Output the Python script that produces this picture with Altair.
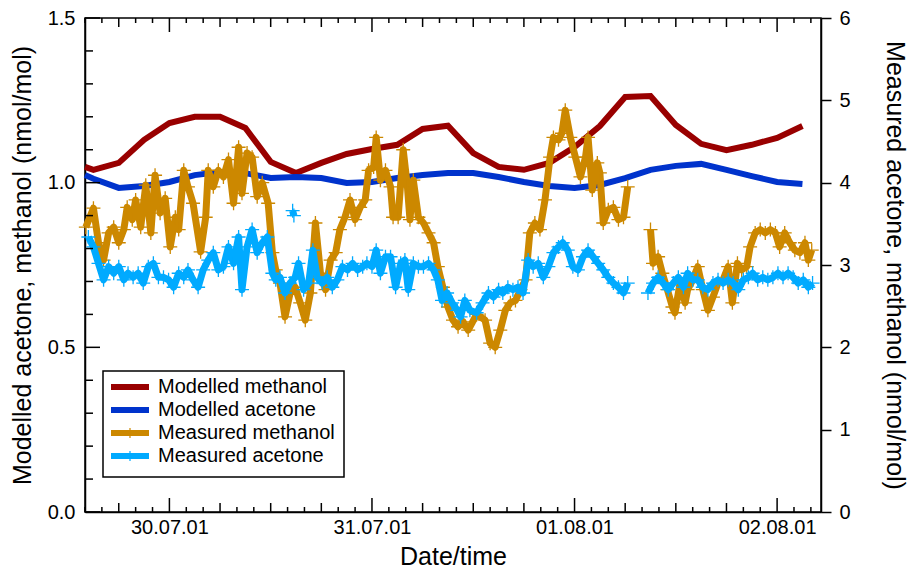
import altair as alt
import pandas as pd

# ---------------- data (hours relative to 30.07.01 00:00) ----------------
model_hours = [-10, -9, -6, -3, 0, 3, 6, 9, 12, 15, 18, 21, 24, 27, 30, 33, 36, 39,
               42, 45, 48, 51, 54, 57, 60, 63, 66, 69, 72, 75]
model_methanol = [1.048, 1.039, 1.060, 1.130, 1.181, 1.200, 1.200, 1.166, 1.063, 1.029,
                  1.060, 1.087, 1.102, 1.115, 1.163, 1.173, 1.090, 1.048, 1.039, 1.060,
                  1.108, 1.172, 1.260, 1.263, 1.175, 1.118, 1.099, 1.115, 1.136, 1.172]
model_acetone = [1.023, 1.012, 0.984, 0.990, 1.002, 1.023, 1.032, 1.029, 1.014, 1.017,
                 1.014, 0.999, 1.002, 1.014, 1.023, 1.029, 1.029, 1.017, 1.002, 0.990,
                 0.984, 0.993, 1.014, 1.039, 1.051, 1.057, 1.039, 1.020, 1.002, 0.996]

meth_h1 = [-9.9, -9.0, -8.4, -7.8, -7.2, -6.6, -6.0, -5.4, -5.0, -4.4, -4.0, -3.4, -2.8, -2.2,
           -1.7, -1.1, -0.5, 0.1, 0.7, 1.1, 1.7, 2.2, 2.8, 3.7, 4.3, 4.6, 5.2, 5.8, 6.4, 7.0,
           7.6, 8.2, 8.6, 9.2, 9.8, 10.4, 11.0, 11.7, 12.2, 12.6, 13.1, 13.7, 14.3, 14.9, 15.5,
           16.1, 16.7, 17.3, 17.9, 18.5, 19.1, 19.7, 20.2, 20.8, 21.4, 22.0, 22.6, 23.2, 23.6,
           24.2, 24.5, 25.0, 25.6, 26.2, 26.5, 27.1, 27.7, 28.2, 28.5, 28.9, 29.5, 30.1, 30.7,
           31.3, 31.8, 32.4, 33.0, 33.6, 34.2, 34.8, 35.4, 36.4, 37.4, 38.0, 38.6, 39.2, 39.8,
           40.4, 41.0, 41.6, 42.2, 42.7, 43.3, 43.9, 44.5, 45.1, 45.5, 46.1, 46.5, 46.9, 47.5,
           48.1, 48.7, 49.3, 49.6, 50.1, 50.7, 51.0, 51.4, 52.0, 52.6, 53.2, 53.8, 54.3]
meth_v1 = [3.46, 3.69, 3.27, 3.06, 3.39, 3.46, 3.27, 3.43, 3.70, 3.55, 3.79, 3.46, 3.97, 3.39,
           4.09, 3.63, 3.81, 3.22, 3.58, 3.43, 4.15, 3.95, 3.75, 3.16, 3.58, 4.15, 3.95, 4.15,
           4.07, 4.28, 3.75, 4.43, 3.87, 4.36, 4.31, 3.83, 4.00, 3.75, 3.15, 2.94, 2.78, 2.37,
           2.66, 2.73, 2.54, 2.33, 2.66, 3.51, 2.90, 2.70, 3.06, 3.15, 3.43, 3.58, 3.79, 3.55,
           3.70, 3.79, 4.15, 4.19, 4.55, 4.03, 4.15, 3.95, 3.58, 3.58, 4.40, 3.95, 3.55, 4.03,
           3.58, 3.51, 3.39, 3.27, 2.98, 2.73, 2.49, 2.33, 2.25, 2.31, 2.21, 2.40, 2.33, 2.05,
           2.00, 2.21, 2.45, 2.54, 2.57, 2.70, 2.82, 3.39, 3.51, 3.43, 3.79, 4.31, 4.55, 4.52,
           4.60, 4.88, 4.55, 4.31, 4.07, 4.31, 4.55, 3.91, 4.24, 4.12, 3.51, 3.67, 3.70, 3.55,
           3.58, 3.95]
meth_h2 = [57.0, 57.3, 57.9, 58.4, 59.0, 59.6, 59.9, 60.5, 61.1, 61.4, 62.0, 62.6, 63.2, 63.8,
           64.4, 65.0, 65.6, 66.2, 66.7, 67.3, 67.8, 68.4, 68.8, 69.4, 70.0, 70.6, 71.2, 71.8,
           72.3, 72.9, 73.5, 74.1, 74.7, 75.3, 75.7, 76.1]
meth_v2 = [3.43, 3.02, 3.10, 2.90, 2.70, 2.49, 2.42, 2.78, 2.54, 2.70, 2.82, 2.98, 2.70, 2.45,
           2.61, 2.78, 2.82, 2.98, 2.54, 3.02, 2.94, 2.98, 3.22, 3.39, 3.43, 3.39, 3.43, 3.39,
           3.22, 3.39, 3.27, 3.18, 3.15, 3.27, 3.06, 3.18]

acet_h1 = [-9.6, -9.0, -8.4, -7.8, -7.2, -6.6, -6.0, -5.4, -4.9, -4.3, -3.7, -3.1, -2.5, -1.9,
           -1.3, -0.7, -0.1, 0.5, 1.1, 1.7, 2.2, 2.8, 3.4, 4.0, 4.6, 5.2, 5.8, 6.4, 7.0, 7.6,
           8.2, 8.6, 9.2, 9.8, 10.4, 11.0, 11.6, 12.2, 12.6, 13.1, 13.7, 14.3, 14.9, 15.3, 15.9,
           16.5, 17.0, 17.5, 18.1, 18.7, 19.3, 19.9, 20.5, 21.1, 21.7, 22.3, 22.9, 23.4, 24.0,
           24.5, 25.0, 25.6, 26.2, 26.8, 27.4, 27.9, 28.3, 28.9, 29.5, 30.1, 30.7, 31.3, 31.8,
           32.3, 32.9, 33.5, 34.1, 34.5, 35.0, 35.6, 36.4, 37.1, 37.8, 38.4, 39.0, 39.5, 40.1,
           40.7, 41.3, 41.9, 42.5, 43.1, 43.7, 44.3, 44.9, 45.5, 46.1, 46.6, 47.2, 47.8, 48.4,
           49.0, 49.6, 50.2, 50.8, 51.4, 52.0, 52.6, 53.2, 53.8, 54.3]
acet_v1 = [3.34, 3.22, 3.02, 2.82, 2.98, 2.90, 2.98, 2.82, 2.90, 2.85, 2.90, 2.78, 2.98, 3.02,
           2.85, 2.85, 2.82, 2.73, 2.90, 2.85, 2.94, 2.82, 2.73, 2.94, 3.06, 3.15, 2.94, 2.98,
           3.22, 3.02, 3.34, 2.70, 3.22, 3.43, 3.15, 3.27, 3.34, 2.90, 2.82, 2.85, 2.66, 2.78,
           2.85, 3.02, 2.70, 2.78, 3.18, 2.85, 2.78, 2.85, 2.73, 2.82, 2.98, 2.94, 3.02, 2.94,
           2.98, 3.02, 2.98, 3.18, 2.90, 3.10, 3.10, 2.73, 3.02, 3.06, 2.70, 3.02, 2.98, 2.98,
           3.02, 2.94, 2.82, 2.57, 2.66, 2.54, 2.45, 2.37, 2.57, 2.45, 2.42, 2.54, 2.66, 2.61,
           2.70, 2.66, 2.73, 2.70, 2.73, 2.66, 3.06, 2.98, 3.02, 2.85, 2.98, 3.15, 3.22, 3.27,
           3.18, 2.98, 2.94, 3.10, 3.18, 3.10, 3.02, 2.94, 2.85, 2.78, 2.73, 2.66, 2.78]
acet_h_iso = [14.6, 14.75]
acet_v_iso = [3.66, 3.60]
acet_h2 = [56.7, 57.3, 57.9, 58.5, 59.1, 59.7, 60.3, 60.9, 61.4, 62.0, 62.6, 63.2, 63.8, 64.4,
           65.0, 65.6, 66.2, 66.8, 67.4, 68.0, 68.6, 69.1, 69.7, 70.3, 70.9, 71.5, 72.1, 72.7,
           73.3, 73.9, 74.5, 75.1, 75.7, 76.2]
acet_v2 = [2.66, 2.78, 2.85, 2.78, 2.70, 2.78, 2.85, 2.73, 2.90, 2.82, 2.82, 2.73, 2.70, 2.78,
           2.82, 2.78, 2.82, 2.78, 2.70, 2.82, 2.85, 2.90, 2.82, 2.85, 2.82, 2.85, 2.90, 2.85,
           2.90, 2.85, 2.78, 2.82, 2.73, 2.78]

legend_names = ["Modelled methanol", "Modelled acetone", "Measured methanol", "Measured acetone"]
legend_colors = ["#990000", "#0033CC", "#CC8800", "#00AAFF"]
date_labels = [(2001, 7, 30), (2001, 7, 31), (2001, 8, 1), (2001, 8, 2)]

# ---------------- helpers ----------------
BASE = pd.Timestamp("2001-07-30 00:00:00")
W, H = 736, 494
FONT = "Liberation Sans"


def to_t(hours):
    return [(BASE + pd.Timedelta(hours=h)).strftime("%Y-%m-%dT%H:%M:%S") for h in hours]


def seg_df(segments):
    rows = []
    for sid, (hs, vs) in enumerate(segments):
        for t, v in zip(to_t(hs), vs):
            rows.append({"t": t, "v": v, "seg": sid})
    return pd.DataFrame(rows)


mod_df = pd.DataFrame({"t": to_t(model_hours), "meth": model_methanol, "acet": model_acetone})
mm_df = seg_df([(meth_h1, meth_v1), (meth_h2, meth_v2)])
ma_df = seg_df([(acet_h1, acet_v1), (acet_h_iso, acet_v_iso), (acet_h2, acet_v2)])

ticks = pd.date_range("2001-07-29 14:00", "2001-08-02 04:00", freq="2h")
tick_df = pd.DataFrame({"t": ticks.strftime("%Y-%m-%dT%H:%M:%S"),
                        "kind": ["long" if t.hour == 0 else ("mid" if t.hour % 6 == 0 else "short")
                                 for t in ticks]})
ytick_vals = [round(i * 0.1, 1) for i in range(16)]
ytick_df = pd.DataFrame({"v": ytick_vals,
                         "major": [abs(v * 2 - round(v * 2)) < 1e-9 for v in ytick_vals]})

X_SCALE = alt.Scale(domain=[alt.DateTime(year=2001, month=7, date=29, hours=14),
                            alt.DateTime(year=2001, month=8, date=2, hours=5, minutes=12)])
X_AXIS = alt.Axis(values=[alt.DateTime(year=y, month=m, date=d) for y, m, d in date_labels],
                  format="%d.%m.%y", title="Date/time", ticks=False, tickSize=0,
                  labelPadding=5, labelFontSize=20, titleFontSize=25, titlePadding=7,
                  domainColor="black", domainWidth=1.5, grid=False, labelFlush=False)


def xenc():
    return alt.X("t:T", scale=X_SCALE, axis=X_AXIS)


LEFT_SCALE = alt.Scale(domain=[0, 1.5], nice=False, zero=False)
RIGHT_SCALE = alt.Scale(domain=[0, 6], nice=False, zero=False)
LEFT_AXIS = alt.Axis(orient="left", values=[0, 0.5, 1.0, 1.5], format=".1f",
                     title="Modelled acetone, methanol (nmol/mol)", ticks=False, tickSize=0,
                     labelPadding=10, labelFontSize=20, titleFontSize=25, titlePadding=12,
                     domainColor="black", domainWidth=1.5, grid=False)
RIGHT_AXIS = alt.Axis(orient="right", values=[0, 1, 2, 3, 4, 5, 6], format="d",
                      title="Measured acetone, methanol (nmol/mol)", tickSize=10, tickWidth=1.5,
                      tickColor="black", labelPadding=8, labelFontSize=20, titleFontSize=25,
                      titlePadding=31, domainColor="black", domainWidth=1.5, grid=False)

CROSS = "M-1,0L1,0M0,-1L0,1"

layers = []
# modelled
layers.append(alt.Chart(mod_df).mark_line(color=legend_colors[0], strokeWidth=6).encode(
    x=xenc(), y=alt.Y("meth:Q", scale=LEFT_SCALE, axis=LEFT_AXIS)))
layers.append(alt.Chart(mod_df).mark_line(color=legend_colors[1], strokeWidth=6).encode(
    x=xenc(), y=alt.Y("acet:Q", scale=LEFT_SCALE, axis=None)))
# measured methanol
layers.append(alt.Chart(mm_df).mark_line(color=legend_colors[2], strokeWidth=7,
                                         strokeJoin="round").encode(
    x=xenc(), y=alt.Y("v:Q", scale=RIGHT_SCALE, axis=RIGHT_AXIS), detail="seg:N"))
layers.append(alt.Chart(mm_df).mark_point(shape=CROSS, size=196, filled=False, strokeWidth=1.3,
                                          color=legend_colors[2], opacity=1).encode(
    x=xenc(), y=alt.Y("v:Q", scale=RIGHT_SCALE, axis=None)))
# measured acetone
layers.append(alt.Chart(ma_df).mark_line(color=legend_colors[3], strokeWidth=7,
                                         strokeJoin="round").encode(
    x=xenc(), y=alt.Y("v:Q", scale=RIGHT_SCALE, axis=None), detail="seg:N"))
layers.append(alt.Chart(ma_df).mark_point(shape=CROSS, size=196, filled=False, strokeWidth=1.3,
                                          color=legend_colors[3], opacity=1).encode(
    x=xenc(), y=alt.Y("v:Q", scale=RIGHT_SCALE, axis=None)))

# inward ticks on bottom and top
for kind, ln in [("long", 14), ("mid", 9), ("short", 5)]:
    d = tick_df[tick_df["kind"] == kind]
    layers.append(alt.Chart(d).mark_rule(color="black", strokeWidth=1.5).encode(
        x=xenc(), y=alt.value(H), y2=alt.value(H - ln)))
    layers.append(alt.Chart(d).mark_rule(color="black", strokeWidth=1.5).encode(
        x=xenc(), y=alt.value(0), y2=alt.value(ln)))
# inward ticks on left
for major, ln in [(True, 15), (False, 8)]:
    d = ytick_df[ytick_df["major"] == major]
    layers.append(alt.Chart(d).mark_rule(color="black", strokeWidth=1.5).encode(
        y=alt.Y("v:Q", scale=LEFT_SCALE, axis=None), x=alt.value(0), x2=alt.value(ln)))

# legend
leg_df = pd.DataFrame({"name": legend_names, "color": legend_colors, "row": [0, 1, 2, 3],
                       "measured": [False, False, True, True]})
LEG_Y = alt.Scale(domain=[0, 3], range=[369, 438])
layers.append(alt.Chart(pd.DataFrame({"a": [0]})).mark_rect(
    fill="white", stroke="black", strokeWidth=1.5).encode(
    x=alt.value(18), x2=alt.value(259), y=alt.value(353), y2=alt.value(459)))
layers.append(alt.Chart(leg_df).mark_rule(strokeWidth=6).encode(
    x=alt.value(26), x2=alt.value(64), y=alt.Y("row:Q", scale=LEG_Y, axis=None),
    color=alt.Color("name:N", scale=alt.Scale(domain=legend_names, range=legend_colors),
                    legend=None)))
layers.append(alt.Chart(leg_df[leg_df["measured"]]).mark_point(
    shape=CROSS, size=100, filled=False, strokeWidth=1.2, opacity=1).encode(
    x=alt.value(45), y=alt.Y("row:Q", scale=LEG_Y, axis=None),
    color=alt.Color("name:N", scale=alt.Scale(domain=legend_names, range=legend_colors),
                    legend=None)))
layers.append(alt.Chart(leg_df).mark_text(align="left", baseline="middle", fontSize=20,
                                          color="black", font=FONT).encode(
    x=alt.value(73), y=alt.Y("row:Q", scale=LEG_Y, axis=None), text="name:N"))

chart = alt.layer(*layers).resolve_scale(y="independent").properties(
    width=W, height=H,
    autosize=alt.AutoSizeParams(type="none"),
    padding={"left": 85, "top": 18, "right": 88, "bottom": 59},
    background="white",
).configure_view(stroke="black", strokeWidth=1.5).configure_axis(
    labelFont=FONT, titleFont=FONT, labelColor="black", titleColor="black",
    titleFontWeight="normal"
).configure_text(font=FONT)

chart.save("out.html", embed_options={"renderer": "svg", "actions": False})
